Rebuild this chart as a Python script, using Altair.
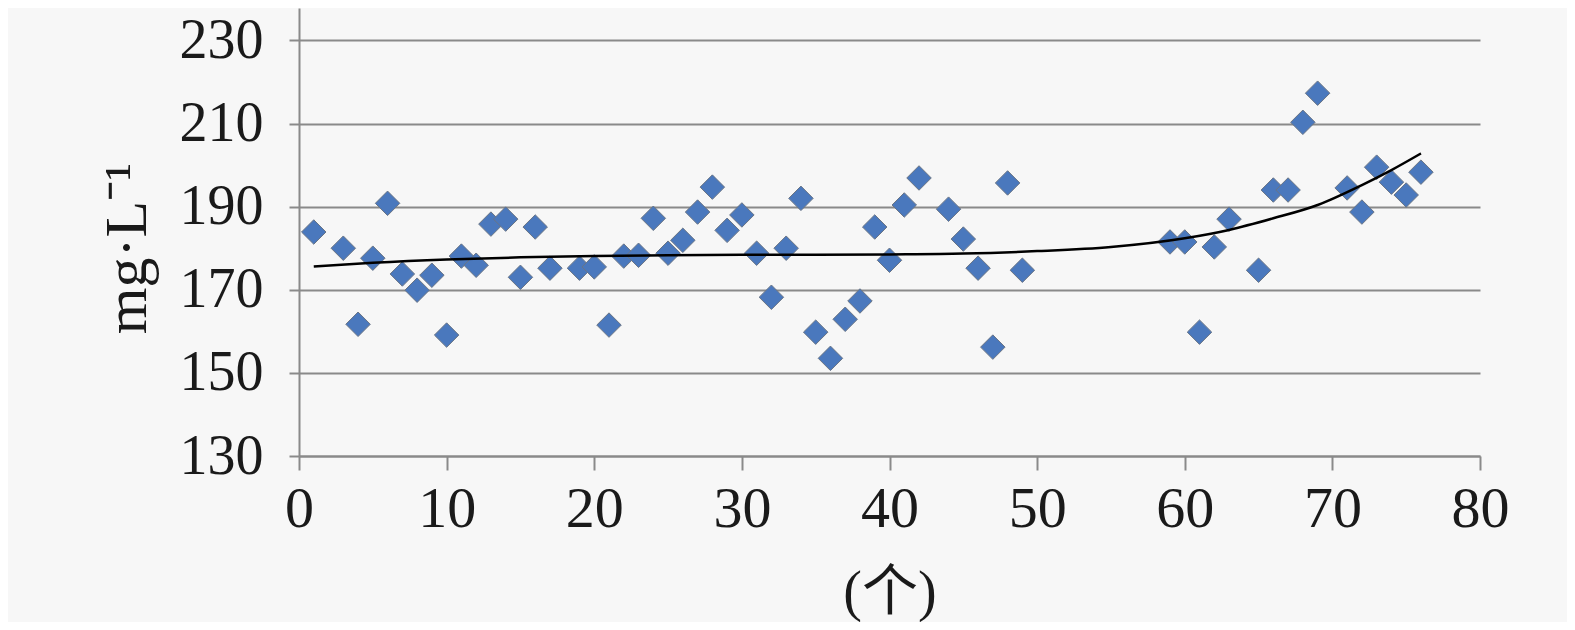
import altair as alt
import pandas as pd

# Scatter data (index, mg·L-1)
idx = [1, 3, 4, 5, 6, 7, 8, 9, 10, 11, 12, 13, 14, 15, 16, 17, 19, 20, 21, 22,
       23, 24, 25, 26, 27, 28, 29, 30, 31, 32, 33, 34, 35, 36, 37, 38, 39, 40,
       41, 42, 44, 45, 46, 47, 48, 49, 59, 60, 61, 62, 63, 65, 66, 67, 68, 69,
       71, 72, 73, 74, 75, 76]
vals = [183.9, 180.0, 161.7, 177.6, 190.8, 173.8, 169.9, 173.5, 159.1, 178.1,
        175.9, 185.8, 187.0, 173.0, 185.1, 175.2, 175.2, 175.5, 161.5, 178.1,
        178.3, 187.2, 178.8, 181.9, 188.7, 194.7, 184.3, 188.0, 178.8, 168.2,
        180.0, 192.0, 159.8, 153.5, 162.9, 167.3, 185.1, 177.1, 190.4, 196.9,
        189.4, 182.2, 175.2, 156.2, 195.7, 174.7, 181.5, 181.5, 159.8, 180.3,
        187.0, 174.7, 194.0, 194.0, 210.3, 217.3, 194.5, 188.7, 199.5, 195.9,
        192.8, 198.3]

# Trend line
trend_x = [1, 5, 10, 15, 20, 25, 30, 35, 40, 45, 50, 55, 60, 63, 66, 69, 72, 74, 76]
trend_y = [175.6, 176.5, 177.3, 177.8, 178.1, 178.3, 178.4, 178.4, 178.5, 178.7,
           179.3, 180.3, 182.4, 184.4, 187.2, 190.4, 195.2, 198.8, 202.8]

y_ticks = [130, 150, 170, 190, 210, 230]
x_ticks = [0, 10, 20, 30, 40, 50, 60, 70, 80]

pts = pd.DataFrame({"x": idx, "y": vals})
tr = pd.DataFrame({"x": trend_x, "y": trend_y})

SERIF = "Liberation Serif, Times New Roman, Noto Sans CJK SC, serif"

xs = alt.Scale(domain=[0, 80], nice=False, zero=False)
ys = alt.Scale(domain=[130, 237.8], nice=False, zero=False)

x_axis = alt.Axis(values=x_ticks, title="(个)", grid=False, labelFlush=False,
                  labelFont=SERIF, labelFontSize=58, labelColor="#1a1a1a",
                  labelPadding=10, tickSize=14, tickColor="#8a8a8a", tickWidth=2,
                  domainColor="#8a8a8a", domainWidth=2,
                  titleFont=SERIF, titleFontSize=56, titleFontWeight="normal",
                  titleColor="#1a1a1a", titleBaseline="middle", titleY=136)
y_axis = alt.Axis(values=y_ticks, title="mg·L⁻¹", grid=True, gridColor="#8a8a8a",
                  gridWidth=2, labelFont=SERIF, labelFontSize=56, labelColor="#1a1a1a",
                  labelPadding=26, tickSize=10, tickColor="#8a8a8a", tickWidth=2,
                  domainColor="#8a8a8a", domainWidth=2,
                  titleFont=SERIF, titleFontSize=60, titleFontWeight="normal",
                  titleColor="#1a1a1a", titleAngle=-90, titleAlign="center",
                  titleBaseline="middle", titleX=-172, titleY=240)

points = alt.Chart(pts).mark_point(
    shape="diamond", filled=True, size=600, color="#4a78bd", opacity=1,
    stroke="#6a7585", strokeWidth=1
).encode(
    x=alt.X("x:Q", scale=xs, axis=x_axis),
    y=alt.Y("y:Q", scale=ys, axis=y_axis),
)

line = alt.Chart(tr).mark_line(color="#000000", strokeWidth=2.5, interpolate="monotone").encode(
    x=alt.X("x:Q", scale=xs),
    y=alt.Y("y:Q", scale=ys),
)

chart = alt.layer(points, line).properties(
    width=1181, height=448,
    autosize=alt.AutoSizeParams(type="none"),
    padding={"left": 291, "top": 0, "right": 87, "bottom": 166},
    background="#f7f7f7",
).configure_view(stroke=None)

chart.save("out.html", embed_options={"renderer": "svg", "actions": False})
